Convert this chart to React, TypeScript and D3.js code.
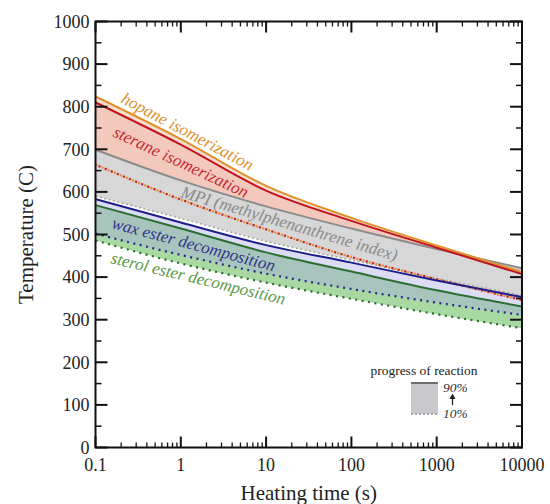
import React from "react";
import * as d3 from "d3";

// heating time (s) at each decade, temperatures (C)
const times = [0.1, 1, 10, 100, 1000, 10000];
const hopane90 = [824, 724, 614, 539, 474, 412];
const sterane90 = [810, 711, 603, 532, 469, 407];
const isomer10 = [664, 582, 512, 447, 395, 346]; // hopane + sterane 10% lines overlap
const mpi90 = [699, 627, 566, 514, 466, 421];
const mpi10 = [590, 538, 484, 440, 397, 357];
const wax90 = [583, 528, 475, 434, 392, 353];
const wax10 = [502, 452, 408, 372, 340, 311];
const sterol90 = [569, 514, 458, 413, 369, 331];
const sterol10 = [486, 432, 387, 349, 313, 280];

const xTicks = [0.1, 1, 10, 100, 1000, 10000];
const yTicks = [0, 100, 200, 300, 400, 500, 600, 700, 800, 900, 1000];

const width = 550;
const height = 504;
const left = 95.5;
const right = 522;
const top = 21.5;
const bottom = 447.5;
const serif = "Liberation Serif, Times New Roman, serif";

export default function App() {
  const x = d3.scaleLog().domain([0.1, 10000]).range([left, right]);
  const y = d3.scaleLinear().domain([0, 1000]).range([bottom, top]);

  const line = (vals: number[]) =>
    d3
      .line<number>()
      .x((d, i) => x(times[i]))
      .y((d) => y(d))
      .curve(d3.curveMonotoneX)(vals) as string;

  const band = (hi: number[], lo: number[]) =>
    d3
      .area<number>()
      .x((d, i) => x(times[i]))
      .y1((d) => y(d))
      .y0((d, i) => y(lo[i]))
      .curve(d3.curveMonotoneX)(hi) as string;

  // minor ticks on log axis
  const xMinor: number[] = [];
  for (let p = -1; p < 4; p++) {
    for (let m = 2; m < 10; m++) xMinor.push(m * Math.pow(10, p));
  }
  const yMinor = d3.range(50, 1000, 100);

  const labels = [
    { text: "hopane isomerization", x: 120, y: 102, a: 28, c: "#e0922e" },
    { text: "sterane isomerization", x: 112, y: 136, a: 25, c: "#c42a34" },
    { text: "MPI (methylphenanthrene index)", x: 180, y: 197, a: 16.5, c: "#8a8a8a" },
    { text: "wax ester decomposition", x: 111, y: 228, a: 15, c: "#34348a" },
    { text: "sterol ester decomposition", x: 110, y: 263, a: 13.5, c: "#5a9a48" },
  ];

  return (
    <svg
      width={width}
      height={height}
      style={{ position: "absolute", left: 0, top: 0, background: "#fff" }}
    >
      <defs>
        <clipPath id="plot">
          <rect x={left} y={top} width={right - left} height={bottom - top} />
        </clipPath>
      </defs>
      <g clipPath="url(#plot)">
        {/* fills */}
        <path d={band(hopane90, isomer10)} fill="#f9ddd0" />
        <path d={band(sterane90, isomer10)} fill="#f4c9bd" />
        <path d={band(mpi90, mpi10)} fill="#d7d7d7" />
        <path d={band(sterol90, sterol10)} fill="#a9d9a3" />
        <path d={band(wax90, wax10)} fill="rgb(168,168,228)" fillOpacity={0.4} />

        {/* 10% lines */}
        <path d={line(mpi10)} fill="none" stroke="#a8a8a8" strokeWidth={1.6} strokeDasharray="2,2.5" />
        <path d={line(isomer10)} fill="none" stroke="#e8902a" strokeWidth={2.2} strokeDasharray="2.2,4.4" />
        <path d={line(isomer10)} fill="none" stroke="#c42030" strokeWidth={2.2} strokeDasharray="2.2,4.4" strokeDashoffset={3.3} />
        <path d={line(wax10)} fill="none" stroke="#28288e" strokeWidth={2.2} strokeDasharray="2,4.5" />
        <path d={line(sterol10)} fill="none" stroke="#2a6a2a" strokeWidth={2.2} strokeDasharray="2,4.5" />

        {/* 90% lines */}
        <path d={line(mpi90)} fill="none" stroke="#8c8c8c" strokeWidth={2} />
        <path d={line(sterol90)} fill="none" stroke="#2a6e30" strokeWidth={2} />
        <path d={line(wax90)} fill="none" stroke="#1e1e88" strokeWidth={2} />
        <path d={line(hopane90)} fill="none" stroke="#e0922a" strokeWidth={2} />
        <path d={line(sterane90)} fill="none" stroke="#c0141e" strokeWidth={2} />
      </g>

      {labels.map((l) => (
        <text
          key={l.text}
          transform={`translate(${l.x},${l.y}) rotate(${l.a})`}
          fill={l.c}
          style={{ fontFamily: serif, fontStyle: "italic", fontSize: 17 }}
        >
          {l.text}
        </text>
      ))}

      {/* frame + ticks */}
      <rect x={left} y={top} width={right - left} height={bottom - top} fill="none" stroke="#111" strokeWidth={2} />
      {yTicks.map((v) => (
        <g key={"y" + v}>
          <line x1={left} x2={left + 12} y1={y(v)} y2={y(v)} stroke="#111" strokeWidth={2} />
          <line x1={right} x2={right - 12} y1={y(v)} y2={y(v)} stroke="#111" strokeWidth={2} />
          <text x={left - 6} y={y(v)} dy="0.35em" textAnchor="end" style={{ fontFamily: serif, fontSize: 18 }} fill="#222">
            {v}
          </text>
        </g>
      ))}
      {yMinor.map((v) => (
        <g key={"ym" + v}>
          <line x1={left} x2={left + 6} y1={y(v)} y2={y(v)} stroke="#111" strokeWidth={1.5} />
          <line x1={right} x2={right - 6} y1={y(v)} y2={y(v)} stroke="#111" strokeWidth={1.5} />
        </g>
      ))}
      {xTicks.map((v) => (
        <g key={"x" + v}>
          <line x1={x(v)} x2={x(v)} y1={bottom} y2={bottom - 11} stroke="#111" strokeWidth={2} />
          <line x1={x(v)} x2={x(v)} y1={top} y2={top + 11} stroke="#111" strokeWidth={2} />
          <text x={x(v)} y={bottom + 17} dy="0.35em" textAnchor="middle" style={{ fontFamily: serif, fontSize: 18 }} fill="#222">
            {v}
          </text>
        </g>
      ))}
      {xMinor.map((v) => (
        <g key={"xm" + v}>
          <line x1={x(v)} x2={x(v)} y1={bottom} y2={bottom - 5} stroke="#111" strokeWidth={1.3} />
          <line x1={x(v)} x2={x(v)} y1={top} y2={top + 5} stroke="#111" strokeWidth={1.3} />
        </g>
      ))}

      {/* axis titles */}
      <text x={(left + right) / 2} y={493} dy="0.35em" textAnchor="middle" style={{ fontFamily: serif, fontSize: 21 }} fill="#222">
        Heating time (s)
      </text>
      <text
        transform={`translate(26,${(top + bottom) / 2}) rotate(-90)`}
        dy="0.35em"
        textAnchor="middle"
        style={{ fontFamily: serif, fontSize: 21 }}
        fill="#222"
      >
        Temperature (C)
      </text>

      {/* legend */}
      <text x={424} y={370} dy="0.35em" textAnchor="middle" style={{ fontFamily: serif, fontSize: 13.5 }} fill="#222">
        progress of reaction
      </text>
      <rect x={411} y={383} width={27} height={31} fill="#c9c9cd" />
      <line x1={411} x2={438} y1={383} y2={383} stroke="#6e6e6e" strokeWidth={2} />
      <line x1={411} x2={438} y1={414} y2={414} stroke="#999" strokeWidth={1.5} strokeDasharray="2,2" />
      <text x={443} y={387} dy="0.35em" style={{ fontFamily: serif, fontStyle: "italic", fontSize: 13.5 }} fill="#333">
        90%
      </text>
      <text x={443} y={413} dy="0.35em" style={{ fontFamily: serif, fontStyle: "italic", fontSize: 13.5 }} fill="#333">
        10%
      </text>
      <line x1={452.5} x2={452.5} y1={405} y2={397} stroke="#222" strokeWidth={1.3} />
      <path d="M449.5,399 L452.5,393.5 L455.5,399 Z" fill="#222" />
    </svg>
  );
}
